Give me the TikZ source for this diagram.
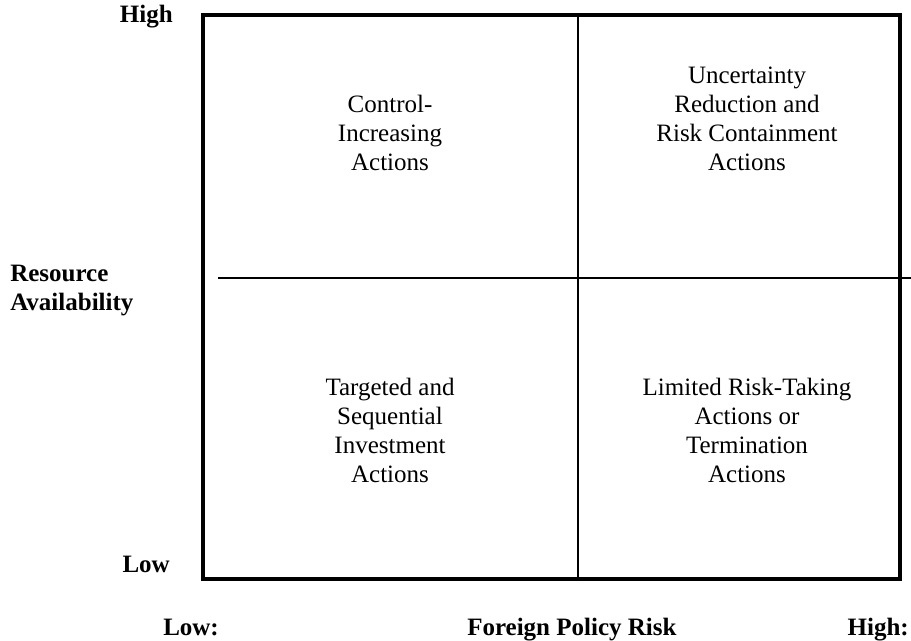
\documentclass[tikz,border=0pt]{standalone}
\usepackage{fontspec}
\setmainfont{Liberation Serif}
\usepackage{tikz}

\tikzset{
  cell text/.style={inner sep=0pt, anchor=base, align=center, font=\fontsize{18.75}{21.6}\selectfont},
  axis label/.style={inner sep=0pt, font=\fontsize{18.75}{21.6}\selectfont\bfseries},
}

\begin{document}
\begin{tikzpicture}[x=0.75pt,y=0.75pt,yscale=-1,xscale=1]
\path [use as bounding box] (0,0) rectangle (911,640);

%Shape: Rectangle [id:outer box]
\draw [line width=2.6pt] (203,15) coordinate (boxnw) rectangle (900,579) coordinate (boxse);
%Straight Lines [id:vertical divider]
\draw [line width=1.2pt] (578,15) -- (578,579);
%Straight Lines [id:horizontal divider]
\draw [line width=1.2pt] (218,278) -- (911,278);

% Text Node (base = last line)
\node (ctrl) [cell text] at (390,170) {Control-\\Increasing\\Actions};
% Text Node
\node (uncert) [cell text] at (747,170) {Uncertainty\\Reduction and\\Risk Containment\\Actions};
% Text Node
\node (target) [cell text] at (390,482) {Targeted and\\Sequential\\Investment\\Actions};
% Text Node
\node (limited) [cell text] at (747,482) {Limited Risk-Taking\\Actions or\\Termination\\Actions};

% Text Node
\node (reshigh) [axis label, anchor=base east] at (173,22) {High};
% Text Node
\node (reslow) [axis label, anchor=base east] at (170,572) {Low};
% Text Node
\node (resname) [axis label, anchor=base west, align=left] at (10,310) {Resource\\Availability};
% Text Node
\node (risklow) [axis label, anchor=base west] at (163,635) {Low:};
% Text Node
\node (riskname) [axis label, anchor=base west] at (467,635) {Foreign Policy Risk};
% Text Node
\node (riskhigh) [axis label, anchor=base east] at (909,635) {High:};

\end{tikzpicture}
\end{document}
